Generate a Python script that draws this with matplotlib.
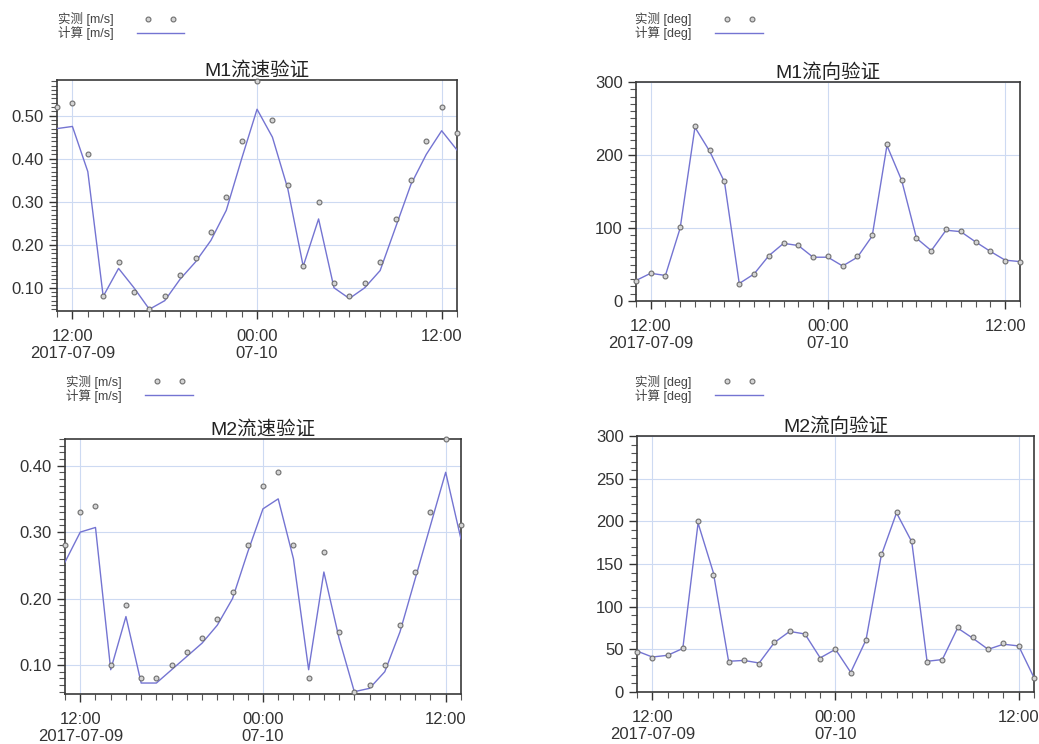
import matplotlib
matplotlib.use("Agg")
import matplotlib.pyplot as plt
import matplotlib.dates as mdates
from matplotlib.ticker import MultipleLocator, FormatStrFormatter, FixedLocator
from matplotlib.legend_handler import HandlerLine2D
import pandas as pd

plt.rcParams['font.family'] = ['Liberation Sans', 'Noto Sans CJK SC', 'DejaVu Sans']

# hourly samples, 2017-07-09 11:00 .. 2017-07-10 13:00
times = pd.date_range("2017-07-09 11:00", periods=27, freq="h")

x_major = pd.to_datetime(["2017-07-09 12:00", "2017-07-10 00:00", "2017-07-10 12:00"])
x_labels = ["12:00\n2017-07-09", "00:00\n07-10", "12:00"]

## M1 ##
m1_speed_obs = [0.52, 0.53, 0.41, 0.08, 0.16, 0.09, 0.05, 0.08, 0.13, 0.17, 0.23, 0.31, 0.44, 0.58,
                0.49, 0.34, 0.15, 0.30, 0.11, 0.08, 0.11, 0.16, 0.26, 0.35, 0.44, 0.52, 0.46]
m1_speed_calc = [0.47, 0.475, 0.37, 0.08, 0.145, 0.10, 0.05, 0.07, 0.12, 0.16, 0.21, 0.28, 0.40, 0.515,
                 0.45, 0.33, 0.15, 0.26, 0.10, 0.075, 0.10, 0.14, 0.24, 0.34, 0.41, 0.465, 0.42]
m1_dir_obs = [27, 38, 34, 102, 240, 207, 164, 23, 37, 62, 80, 77, 60, 61,
              48, 61, 90, 215, 166, 86, 69, 98, 96, 81, 68, 55, 54]
m1_dir_calc = [28, 38, 35, 100, 238, 205, 163, 24, 37, 62, 79, 76, 60, 60,
               48, 60, 89, 213, 165, 86, 69, 97, 95, 81, 68, 56, 54]

## M2 ##
m2_speed_obs = [0.28, 0.33, 0.34, 0.10, 0.19, 0.08, 0.08, 0.10, 0.12, 0.14, 0.17, 0.21, 0.28, 0.37,
                0.39, 0.28, 0.08, 0.27, 0.15, 0.06, 0.07, 0.10, 0.16, 0.24, 0.33, 0.44, 0.31]
m2_speed_calc = [0.255, 0.30, 0.307, 0.093, 0.173, 0.073, 0.073, 0.093, 0.113, 0.133, 0.16, 0.20, 0.27, 0.335,
                 0.35, 0.26, 0.093, 0.24, 0.14, 0.06, 0.065, 0.09, 0.15, 0.23, 0.31, 0.39, 0.29]
m2_dir_obs = [47, 40, 43, 52, 200, 137, 35, 37, 33, 59, 71, 68, 39, 50,
              22, 61, 162, 211, 177, 35, 38, 76, 64, 50, 57, 54, 16]
m2_dir_calc = [48, 41, 43, 51, 198, 140, 36, 37, 34, 58, 71, 68, 40, 50,
               23, 61, 160, 210, 176, 36, 38, 75, 63, 50, 56, 54, 17]

line_color = "#7474d2"
grid_color = "#cddaf2"

fig = plt.figure(figsize=(10.39, 7.44), dpi=100)

panels = [
    # rect, title, obs, calc, unit, ylim, major, minor, fmt, legend anchor
    ([0.0549, 0.582, 0.385, 0.3105], "M1流速验证", m1_speed_obs, m1_speed_calc, "[m/s]",
     (0.046, 0.583), 0.1, 0.01, "%.2f", (0.047, 0.995)),
    ([0.612, 0.5954, 0.3696, 0.2944], "M1流向验证", m1_dir_obs, m1_dir_calc, "[deg]",
     (0, 300), 100, 10, "%d", (0.603, 0.995)),
    ([0.0626, 0.0672, 0.381, 0.3427], "M2流速验证", m2_speed_obs, m2_speed_calc, "[m/s]",
     (0.0565, 0.44), 0.1, 0.01, "%.2f", (0.055, 0.508)),
    ([0.6131, 0.0699, 0.382, 0.344], "M2流向验证", m2_dir_obs, m2_dir_calc, "[deg]",
     (0, 300), 50, 10, "%d", (0.603, 0.508)),
]

for rect, title, obs, calc, unit, ylim, major, minor, fmt, anchor in panels:
    ax = fig.add_axes(rect)
    ax.plot(times, calc, color=line_color, lw=1.0, label="计算 " + unit, zorder=3)
    ax.plot(times, obs, ls="none", marker="o", ms=3.5, mfc="#d4d4d4", mec="#6e6e6e",
            mew=0.8, label="实测 " + unit, zorder=4, clip_on=False)

    ax.set_xlim(times[0], times[-1])
    ax.set_ylim(*ylim)
    ax.xaxis.set_major_locator(FixedLocator(mdates.date2num(x_major)))
    ax.set_xticklabels(x_labels)
    ax.xaxis.set_minor_locator(mdates.HourLocator())
    ax.yaxis.set_major_locator(MultipleLocator(major))
    ax.yaxis.set_minor_locator(MultipleLocator(minor))
    ax.yaxis.set_major_formatter(FormatStrFormatter(fmt))

    ax.tick_params(which="major", direction="out", length=6, width=1.0, colors="#333333",
                   labelsize=12, labelcolor="#333333")
    ax.tick_params(which="minor", direction="out", length=4, width=0.8, colors="#555555")
    ax.tick_params(axis="x", which="major", pad=7)

    ax.grid(which="major", color=grid_color, lw=0.8)
    for s in ax.spines.values():
        s.set_color("#3a3a3a")
        s.set_linewidth(1.2)

    ax.set_title(title, fontsize=14, color="#222222", pad=3)

    handles, labels = ax.get_legend_handles_labels()
    fig.legend(handles[::-1], labels[::-1], loc="upper left", bbox_to_anchor=anchor,
               frameon=False, markerfirst=False, numpoints=2, handlelength=4.4,
               fontsize=9, labelspacing=0.0, handletextpad=1.6, borderpad=0.2,
               labelcolor="#444444",
               handler_map={handles[1]: HandlerLine2D(marker_pad=1.2)})

fig.savefig("out.png", dpi=100)
